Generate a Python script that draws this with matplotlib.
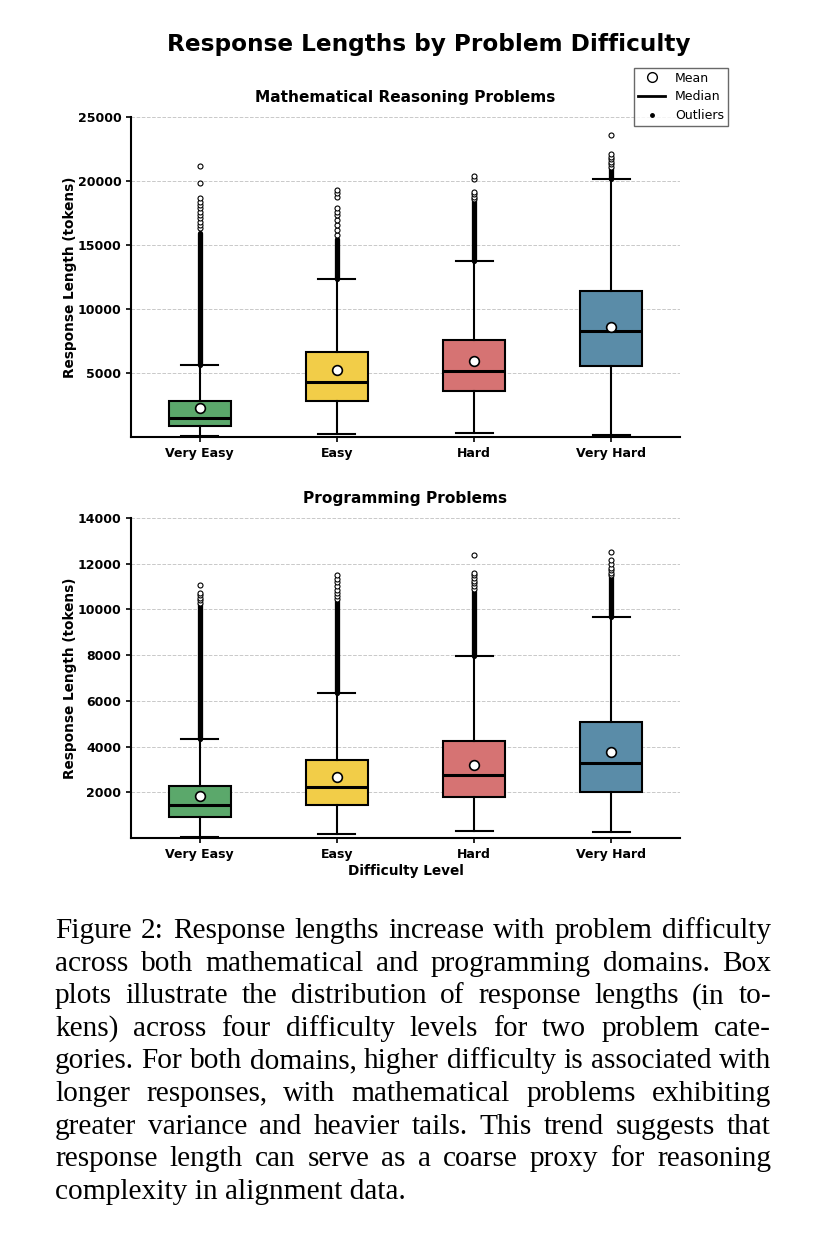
import matplotlib
matplotlib.use("Agg")
import matplotlib.pyplot as plt
from matplotlib.lines import Line2D

# ---------------- data ----------------
categories = ["Very Easy", "Easy", "Hard", "Very Hard"]
colors = ["#5BA86B", "#F2CD48", "#D67373", "#5A8CA8"]

# Mathematical reasoning problems
math_q1 = [890, 2850, 3580, 5520]
math_med = [1500, 4300, 5190, 8280]
math_q3 = [2790, 6660, 7610, 11380]
math_mean = [2280, 5220, 5940, 8620]
math_whislo = [100, 250, 320, 160]
math_whishi = [5650, 12340, 13750, 20130]
math_fliers = [
    [16300, 16560, 16820, 17090, 17340, 17600, 17860, 18125, 18380, 18700, 19870, 21170],
    [15780, 16170, 16560, 16950, 17340, 17600, 17860, 18720, 19040, 19300],
    [18570, 18780, 18960, 19120, 20160, 20410],
    [21120, 21330, 21510, 21690, 21900, 22090, 23570],
]
math_dense_lo = [5650, 12340, 13750, 20130]
math_dense_hi = [15900, 15500, 18400, 21000]

# Programming problems
prog_q1 = [930, 1440, 1780, 2020]
prog_med = [1440, 2240, 2750, 3290]
prog_q3 = [2280, 3420, 4240, 5080]
prog_mean = [1820, 2660, 3200, 3770]
prog_whislo = [45, 160, 290, 265]
prog_whishi = [4320, 6360, 7950, 9670]
prog_fliers = [
    [10290, 10410, 10510, 10610, 10700, 11050],
    [10440, 10580, 10730, 10870, 11020, 11190, 11340, 11490],
    [10900, 11020, 11140, 11250, 11370, 11490, 11600, 12400],
    [11490, 11600, 11720, 11820, 11970, 12150, 12500],
]
prog_dense_lo = [4320, 6360, 7950, 9670]
prog_dense_hi = [10220, 10350, 10800, 11400]

math_yticks = [5000, 10000, 15000, 20000, 25000]
prog_yticks = [2000, 4000, 6000, 8000, 10000, 12000, 14000]

caption_lines = [
    "Figure 2: Response lengths increase with problem difficulty",
    "across both mathematical and programming domains. Box",
    "plots illustrate the distribution of response lengths (in to-",
    "kens) across four difficulty levels for two problem cate-",
    "gories. For both domains, higher difficulty is associated with",
    "longer responses, with mathematical problems exhibiting",
    "greater variance and heavier tails. This trend suggests that",
    "response length can serve as a coarse proxy for reasoning",
    "complexity in alignment data.",
]

# ---------------- figure ----------------
W, H = 826, 1237
fig = plt.figure(figsize=(W / 100, H / 100), dpi=100)
plt.rcParams["font.family"] = ["DejaVu Sans"]


def fx(px):
    return px / W


def fy(py):
    return 1 - py / H


def draw_panel(ax, q1, med, q3, mean, wlo, whi, fliers, dlo, dhi, yticks, ylim, title):
    positions = list(range(1, len(categories) + 1))
    stats = []
    for i in range(len(categories)):
        stats.append(dict(q1=q1[i], med=med[i], q3=q3[i], mean=mean[i],
                          whislo=wlo[i], whishi=whi[i], fliers=fliers[i],
                          label=categories[i]))
    # dense outlier bands
    ax.vlines(positions, dlo, dhi, colors="black", linewidth=3.8, zorder=2,
              capstyle="round")
    bp = ax.bxp(stats, positions=positions, widths=0.45, capwidths=0.27,
                patch_artist=True, showmeans=True,
                boxprops=dict(linewidth=1.5, edgecolor="black"),
                medianprops=dict(color="black", linewidth=2.2),
                whiskerprops=dict(color="black", linewidth=1.5),
                capprops=dict(color="black", linewidth=1.5),
                meanprops=dict(marker="o", markerfacecolor="white",
                               markeredgecolor="black", markersize=7,
                               markeredgewidth=1.2),
                flierprops=dict(marker="o", markerfacecolor="white",
                                markeredgecolor="black", markersize=3.6,
                                markeredgewidth=0.8))
    for patch, c in zip(bp["boxes"], colors):
        patch.set_facecolor(c)
    ax.set_xlim(0.5, 4.5)
    ax.set_ylim(*ylim)
    ax.set_yticks(yticks)
    ax.set_yticklabels([str(t) for t in yticks], fontsize=9, fontweight="bold")
    ax.set_xticks(positions)
    ax.set_xticklabels(categories, fontsize=9, fontweight="bold")
    ax.set_ylabel("Response Length (tokens)", fontsize=9.8, fontweight="bold",
                  labelpad=0.5)
    ax.set_title(title, fontsize=11.1, fontweight="bold", pad=11)
    ax.yaxis.grid(True, linestyle="--", color="#bbbbbb", linewidth=0.7, alpha=0.8)
    ax.set_axisbelow(True)
    for s in ["top", "right"]:
        ax.spines[s].set_visible(False)
    for s in ["left", "bottom"]:
        ax.spines[s].set_linewidth(1.5)
    ax.tick_params(width=1.2, length=3.5)


ax1 = fig.add_axes([fx(131), fy(437), fx(680) - fx(131), fy(117) - fy(437)])
draw_panel(ax1, math_q1, math_med, math_q3, math_mean, math_whislo, math_whishi,
           math_fliers, math_dense_lo, math_dense_hi, math_yticks, (0, 25000),
           "Mathematical Reasoning Problems")

ax2 = fig.add_axes([fx(131), fy(838), fx(680) - fx(131), fy(518) - fy(838)])
draw_panel(ax2, prog_q1, prog_med, prog_q3, prog_mean, prog_whislo, prog_whishi,
           prog_fliers, prog_dense_lo, prog_dense_hi, prog_yticks, (0, 14000),
           "Programming Problems")
ax2.set_xlabel("Difficulty Level", fontsize=9.8, fontweight="bold", labelpad=2.5)

fig.text(fx(428.5), fy(44), "Response Lengths by Problem Difficulty",
         ha="center", va="center", fontsize=16.7, fontweight="bold")

handles = [
    Line2D([], [], marker="o", linestyle="none", markerfacecolor="white",
           markeredgecolor="black", markersize=7),
    Line2D([], [], color="black", linewidth=2),
    Line2D([], [], marker=".", linestyle="none", color="black", markersize=5),
]
fig.legend(handles, ["Mean", "Median", "Outliers"], loc="upper right",
           bbox_to_anchor=(fx(728), fy(68)), borderaxespad=0, fontsize=9,
           frameon=True, fancybox=False, edgecolor="#444444",
           handlelength=2.2, handletextpad=0.8, borderpad=0.3, labelspacing=0.45)

# ---------------- caption (justified) ----------------
fig.canvas.draw()
renderer = fig.canvas.get_renderer()
cap_left, cap_right = 55, 771
base0, lstep = 938, 32.6
cap_font = dict(family="Liberation Serif", fontsize=21.2)
for li, line in enumerate(caption_lines):
    yb = fy(base0 + li * lstep)
    words = line.split(" ")
    if li == len(caption_lines) - 1:
        fig.text(fx(cap_left), yb, line, ha="left", va="baseline", **cap_font)
        continue
    widths = []
    for w in words:
        t = fig.text(0, 0, w, **cap_font)
        widths.append(t.get_window_extent(renderer).width)
        t.remove()
    gap = (cap_right - cap_left - sum(widths)) / (len(words) - 1)
    x = cap_left
    for w, wd in zip(words, widths):
        fig.text(fx(x), yb, w, ha="left", va="baseline", **cap_font)
        x += wd + gap

fig.savefig("out.png", dpi=100)
